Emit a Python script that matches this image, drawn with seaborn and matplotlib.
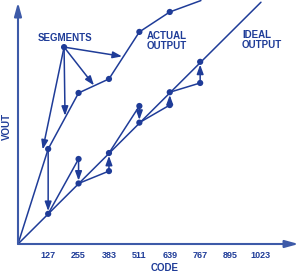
import numpy as np
import pandas as pd
import matplotlib
matplotlib.use("Agg")
import matplotlib.pyplot as plt
import seaborn as sns

# --- data (codes and output levels) ---
tick_codes = [127, 255, 383, 511, 639, 767, 895, 1023]

ideal_line_code = [0, 1023]
ideal_line_vout = [0, 1018]
ideal_code = [127, 255, 383, 511, 639, 767]
ideal_vout = [127, 255, 383, 511, 639, 767]

actual_code = [0, 127, 255, 383, 511, 639, 770]
actual_vout = [0, 400, 636, 695, 893, 977, 1025]

# small segments: each starts at the previous ideal level and ends off the ideal line
seg_start_code = [127, 255, 383, 511, 639]
seg_start_vout = [127, 255, 383, 511, 639]
seg_end_code = [255, 383, 511, 639, 767]
seg_end_vout = [358, 307, 581, 585, 678]

# "SEGMENTS" callout
callout_xy = (194, 829)
callout_targets_code = [104, 198, 320, 438]
callout_targets_vout = [398, 540, 668, 790]

BLUE = "#1f3c98"
AXBLUE = "#3d5aa8"

sns.set_style("white")
plt.rcParams["font.family"] = ["Liberation Sans", "DejaVu Sans"]

fig = plt.figure(figsize=(3.0, 2.75), dpi=100)
ax = fig.add_axes([18 / 300, 31 / 275, 282 / 300, 244 / 275])
ax.set_xlim(0, 282 / 0.2375)
ax.set_ylim(0, 244 / 0.2375)
sns.despine(ax=ax, left=True, bottom=True)

# ideal line
sns.lineplot(x=ideal_line_code, y=ideal_line_vout, color=BLUE, lw=1.1, ax=ax)

# actual output
sns.lineplot(x=actual_code, y=actual_vout, color=BLUE, lw=1.1, sort=False,
             estimator=None, ax=ax)

# segments
rows = []
for i in range(len(seg_end_code)):
    rows.append({"seg": i, "code": seg_start_code[i], "vout": seg_start_vout[i]})
    rows.append({"seg": i, "code": seg_end_code[i], "vout": seg_end_vout[i]})
segs = pd.DataFrame(rows)
sns.lineplot(data=segs, x="code", y="vout", units="seg", estimator=None,
             color=BLUE, lw=1.1, sort=False, ax=ax)

# dots
dots = pd.DataFrame({
    "code": ideal_code + actual_code[1:6] + seg_end_code + [callout_xy[0]],
    "vout": ideal_vout + actual_vout[1:6] + seg_end_vout + [callout_xy[1]],
})
sns.scatterplot(data=dots, x="code", y="vout", color=BLUE, s=20,
                edgecolor="none", zorder=5, ax=ax)

# arrows from off-ideal points to ideal points
arrow_kw = dict(arrowstyle="-|>,head_length=0.55,head_width=0.2",
                color=BLUE, lw=1.1, shrinkA=0, shrinkB=2)
off_vout = [actual_vout[1]] + seg_end_vout
for c, v_off, v_id in zip(ideal_code, off_vout, ideal_vout):
    ax.annotate("", xy=(c, v_id), xytext=(c, v_off), arrowprops=arrow_kw)

for tc, tv in zip(callout_targets_code, callout_targets_vout):
    ax.annotate("", xy=(tc, tv), xytext=callout_xy,
                arrowprops=dict(arrow_kw, shrinkB=0))

# axes with arrows
ax_kw = dict(arrowstyle="-|>,head_length=0.8,head_width=0.22",
             color=AXBLUE, lw=1.5, shrinkA=0, shrinkB=0)
ax.annotate("", xy=(0.995, 0), xytext=(0, 0), xycoords="axes fraction",
            arrowprops=ax_kw)
ax.annotate("", xy=(0, 0.99), xytext=(0, 0), xycoords="axes fraction",
            arrowprops=ax_kw)

# text labels
txt = dict(color=BLUE, fontsize=7, fontweight="bold")
ax.text(198, 867, "SEGMENTS", ha="center", va="center", **txt)
ax.text(543, 855, "ACTUAL\nOUTPUT", ha="left", va="center", linespacing=1.0, **txt)
ax.text(943, 859, "IDEAL\nOUTPUT", ha="left", va="center", linespacing=1.0, **txt)

ax.set_xticks(tick_codes)
ax.set_xticklabels([str(t) for t in tick_codes], color=BLUE, fontsize=6.5,
                   fontweight="bold")
ax.set_yticks([])
ax.tick_params(axis="x", length=0, pad=5)
ax.set_xlabel("")
ax.set_ylabel("")
ax.text(0.521, -0.1, "CODE", transform=ax.transAxes, ha="center",
        va="center", **txt)
ax.text(-0.039, 0.48, "VOUT", transform=ax.transAxes, ha="center",
        va="center", rotation=90, **txt)
ax.grid(False)

fig.savefig("out.png", dpi=100)
